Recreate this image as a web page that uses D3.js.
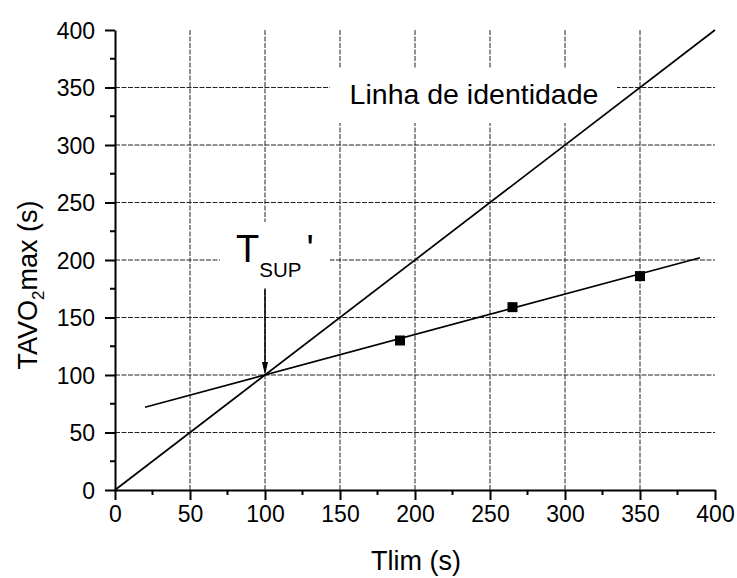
<!DOCTYPE html>
<html>
<head>
<meta charset="utf-8">
<script src="https://cdn.jsdelivr.net/npm/d3@7"></script>
<style>
	body { margin: 0; background: #fff; }
	text { font-family: "Liberation Sans", Arial, sans-serif; fill: #000; }
</style>
</head>
<body>
<div id="chart"></div>
<script>
//////////////////////////// data /////////////////////////////////////////

const xTicks = [0, 50, 100, 150, 200, 250, 300, 350, 400];
const yTicks = [0, 50, 100, 150, 200, 250, 300, 350, 400];
const gridVals = [50, 100, 150, 200, 250, 300, 350];

const tlim = [190, 265, 350];
const tavo = [130, 159, 186];

const identityX = [0, 400];
const identityY = [0, 400];
const fitX = [20, 390];
const fitY = [72, 202];

// crossing of the two lines + arrow start
const tsup = [100, 100];
const arrowTop = 175;

//////////////////////////// sizes ////////////////////////////////////////

const dimensions = {
	width: 737,
	height: 578,
	margin: { top: 30, right: 22, bottom: 88, left: 115 }
};
dimensions.boundedWidth = dimensions.width - dimensions.margin.left - dimensions.margin.right;
dimensions.boundedHeight = dimensions.height - dimensions.margin.top - dimensions.margin.bottom;

const svg = d3.select("#chart").append("svg")
	.attr("width", dimensions.width)
	.attr("height", dimensions.height);

const bounds = svg.append("g")
	.attr("transform", `translate(${dimensions.margin.left},${dimensions.margin.top})`);

//////////////////////////// scales ///////////////////////////////////////

const xScale = d3.scaleLinear().domain([0, 400]).range([0, 600]);
const yScale = d3.scaleLinear().domain([0, 400]).range([dimensions.boundedHeight, 0]);

//////////////////////////// grid /////////////////////////////////////////

const grid = bounds.append("g")
	.attr("stroke", "#222")
	.attr("stroke-width", 1)
	.attr("stroke-dasharray", "5,1.5");

grid.selectAll(".vgrid").data(gridVals).join("line")
	.attr("x1", d => xScale(d)).attr("x2", d => xScale(d))
	.attr("y1", yScale(400)).attr("y2", yScale(0));

grid.selectAll(".hgrid").data(gridVals).join("line")
	.attr("y1", d => yScale(d)).attr("y2", d => yScale(d))
	.attr("x1", xScale(0)).attr("x2", xScale(400));

//////////////////////////// label boxes (hide grid) //////////////////////

bounds.append("rect")
	.attr("x", 215).attr("y", 38)
	.attr("width", 287).attr("height", 55)
	.attr("fill", "#fff");

bounds.append("rect")
	.attr("x", 105).attr("y", 192)
	.attr("width", 110).attr("height", 66)
	.attr("fill", "#fff");

//////////////////////////// lines ////////////////////////////////////////

const line = d3.line().x(d => xScale(d[0])).y(d => yScale(d[1]));

bounds.append("path")
	.datum(d3.zip(identityX, identityY))
	.attr("d", line)
	.attr("fill", "none")
	.attr("stroke", "#000")
	.attr("stroke-width", 1.7);

bounds.append("path")
	.datum(d3.zip(fitX, fitY))
	.attr("d", line)
	.attr("fill", "none")
	.attr("stroke", "#000")
	.attr("stroke-width", 1.7);

// points
const sq = 10;
bounds.selectAll(".pt").data(d3.zip(tlim, tavo)).join("rect")
	.attr("x", d => xScale(d[0]) - sq / 2)
	.attr("y", d => yScale(d[1]) - sq / 2)
	.attr("width", sq).attr("height", sq)
	.attr("fill", "#000");

// arrow
const ax = xScale(tsup[0]);
const ay = yScale(tsup[1]);
bounds.append("line")
	.attr("x1", ax).attr("x2", ax)
	.attr("y1", yScale(arrowTop)).attr("y2", ay - 6)
	.attr("stroke", "#000").attr("stroke-width", 1.5);
bounds.append("path")
	.attr("d", `M${ax},${ay} L${ax - 3},${ay - 13} L${ax + 3},${ay - 13} Z`)
	.attr("fill", "#000");

//////////////////////////// texts ////////////////////////////////////////

bounds.append("text")
	.attr("x", 359).attr("y", 74)
	.attr("text-anchor", "middle")
	.style("font-size", "28.5px")
	.text("Linha de identidade");

const tlab = bounds.append("text")
	.attr("x", 121).attr("y", 232)
	.style("font-size", "38px");
tlab.append("tspan").text("T");
tlab.append("tspan").attr("dy", 15).style("font-size", "20.5px").text("SUP");
tlab.append("tspan").attr("dy", -15).attr("dx", 5).text("'");

//////////////////////////// axes /////////////////////////////////////////

const minor = d3.range(25, 400, 50);

const xAxis = bounds.append("g")
	.attr("transform", `translate(0,${dimensions.boundedHeight})`)
	.call(d3.axisBottom(xScale).tickValues(xTicks).tickSize(10).tickSizeOuter(0).tickPadding(6));

xAxis.append("g").selectAll("line").data(minor).join("line")
	.attr("x1", d => xScale(d)).attr("x2", d => xScale(d))
	.attr("y1", 0).attr("y2", 5)
	.attr("stroke", "#000").attr("stroke-width", 2);

const yAxis = bounds.append("g")
	.call(d3.axisLeft(yScale).tickValues(yTicks).tickSize(10).tickSizeOuter(0).tickPadding(10));

yAxis.append("g").selectAll("line").data(minor).join("line")
	.attr("y1", d => yScale(d)).attr("y2", d => yScale(d))
	.attr("x1", 0).attr("x2", -5)
	.attr("stroke", "#000").attr("stroke-width", 2);

[xAxis, yAxis].forEach(a => {
	a.select(".domain").attr("stroke", "#000").attr("stroke-width", 2);
	a.selectAll(".tick line").attr("stroke", "#000").attr("stroke-width", 2);
	a.selectAll(".tick text")
		.style("font-size", "23px")
		.style("font-family", "'Liberation Sans', Arial, sans-serif")
		.attr("fill", "#000");
});
yAxis.selectAll(".tick text").attr("dy", "0.36em");

// axis titles
svg.append("text")
	.attr("x", 416).attr("y", 570)
	.attr("text-anchor", "middle")
	.style("font-size", "27px")
	.text("Tlim (s)");

const ylab = svg.append("text")
	.attr("transform", "translate(37,285) rotate(-90)")
	.attr("text-anchor", "middle")
	.style("font-size", "27px");
ylab.append("tspan").text("TAVO");
ylab.append("tspan").attr("dy", 7).style("font-size", "17px").text("2");
ylab.append("tspan").attr("dy", -7).text("max (s)");
</script>
</body>
</html>
